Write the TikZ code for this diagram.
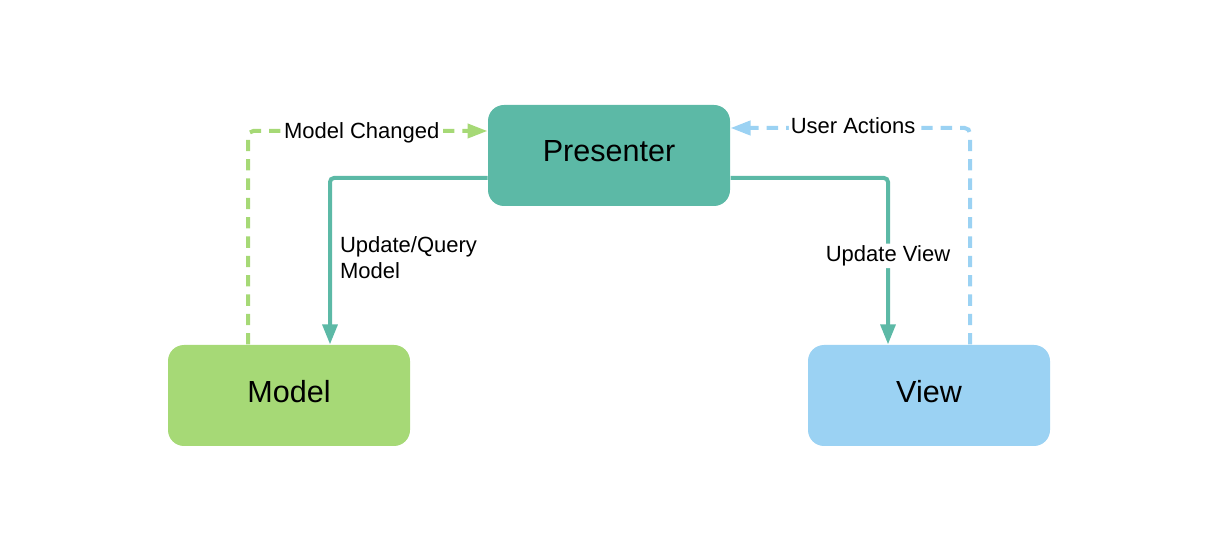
\documentclass[tikz,border=0pt]{standalone}
\usepackage{fontspec}
\setmainfont{Liberation Sans}
\usetikzlibrary{arrows.meta,calc}

\definecolor{presteal}{RGB}{92,185,166}
\definecolor{modelgreen}{RGB}{166,217,118}
\definecolor{viewblue}{RGB}{155,210,243}

\tikzset{every picture/.style={line width=0.75pt}}

\begin{document}
\begin{tikzpicture}[x=0.75pt,y=0.75pt,yscale=-1,xscale=1,
  block/.style={rounded corners=12pt, minimum width=181.5pt, minimum height=75.75pt, inner sep=0pt, text depth=6pt, font=\fontsize{22.9}{27}\selectfont},
  lbl/.style={fill=white, inner sep=1.5pt, font=\fontsize{16.5}{19.5}\selectfont},
  flow/.style={draw=presteal, line width=3pt, rounded corners=3pt, -{Triangle[length=15pt,width=11pt]}},
  notify/.style={line width=3pt, rounded corners=4pt, dash pattern={on 8.5pt off 6pt}, -{Triangle[length=15pt,width=10.5pt]}}]
\useasboundingbox (0,0) rectangle (1217,548);

%Shape: Rounded Rect [id:presenter]
\node [block, fill=presteal] (pres) at (609,155.5) {Presenter};
%Shape: Rounded Rect [id:model]
\node [block, fill=modelgreen] (model) at (289,395.5) {Model};
%Shape: Rounded Rect [id:view]
\node [block, fill=viewblue] (view) at (929,395.5) {View};

%Straight Lines [id:updquery]
\draw [flow] ($(pres.west)+(0,22.5)$) -| ($(model.north)+(41,0)$)
  node [pos=0.7385, anchor=west, xshift=6pt, inner sep=0pt, align=left, font=\fontsize{16.5}{19.5}\selectfont] {Update/Query\\Model};
%Straight Lines [id:updview]
\draw [flow] ($(pres.east)+(0,22.5)$) -| ($(view.north)+(-41,0)$)
  node [pos=0.734, lbl] {Update View};
%Straight Lines [id:modelchanged]
\draw [notify, draw=modelgreen, color=modelgreen] ($(model.north)+(-41,0)$) |- ($(pres.west)+(0,-24.5)$)
  node [pos=0.7375, lbl, text=black, yshift=-1.5pt] {Model Changed};
%Straight Lines [id:useractions]
\draw [notify, draw=viewblue, color=viewblue] ($(view.north)+(41,0)$) |- ($(pres.east)+(0,-27.5)$)
  node [pos=0.744, lbl, text=black, yshift=1.5pt] {User Actions};

\end{tikzpicture}
\end{document}
